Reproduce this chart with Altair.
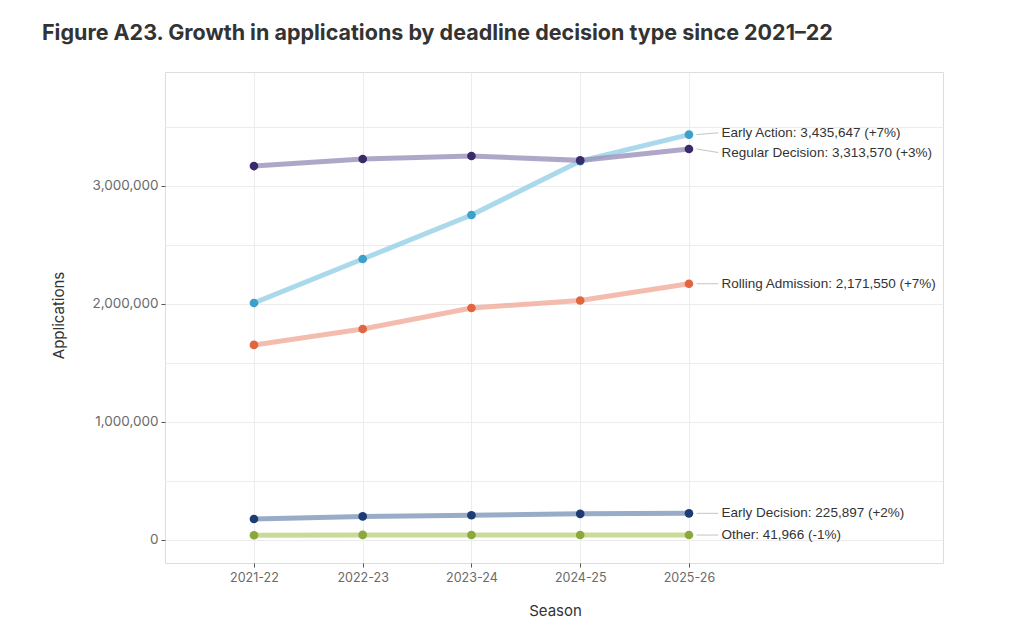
import altair as alt
import pandas as pd

seasons = ["2021-22", "2022-23", "2023-24", "2024-25", "2025-26"]
series = ["Early Action", "Regular Decision", "Rolling Admission", "Early Decision", "Other"]
values = {
    "Early Action": [2008000, 2381000, 2754000, 3210900, 3435647],
    "Regular Decision": [3169000, 3229000, 3254000, 3217100, 3313570],
    "Rolling Admission": [1653000, 1788000, 1966000, 2029500, 2171550],
    "Early Decision": [178000, 200000, 210000, 221500, 225897],
    "Other": [40000, 43000, 42000, 42400, 41966],
}
growth = {"Early Action": "+7%", "Regular Decision": "+3%", "Rolling Admission": "+7%",
          "Early Decision": "+2%", "Other": "-1%"}
label_nudge = {"Early Action": 15000, "Regular Decision": -30000, "Rolling Admission": 0,
               "Early Decision": 0, "Other": 0}
line_colors = ["#93cfe5", "#9b91ba", "#f1ab9b", "#7f97b9", "#bdd17f"]
point_colors = ["#3d9fcb", "#3a2a6a", "#e2653f", "#1d3b74", "#8aa83b"]
y_grid = [0, 500000, 1000000, 1500000, 2000000, 2500000, 3000000, 3500000]

rows = []
for s in series:
    for i, season in enumerate(seasons):
        rows.append({"series": s, "idx": i, "season": season, "value": values[s][i]})
df = pd.DataFrame(rows)

lab_rows = []
last = len(seasons) - 1
for s in series:
    v = values[s][last]
    lab_rows.append({
        "series": s,
        "value": v,
        "label_y": v + label_nudge[s],
        "x0": last + 0.07,
        "x1": last + 0.27,
        "xt": last + 0.30,
        "label": f"{s}: {v:,} ({growth[s]})",
    })
ldf = pd.DataFrame(lab_rows)

label_expr = "[" + ",".join(f"'{s}'" for s in seasons) + "][round(datum.value)]"

xscale = alt.Scale(domain=[-0.818, 6.336], nice=False, zero=False)
yscale = alt.Scale(domain=[-195000, 3966000], nice=False, zero=False)

x_enc = alt.X("idx:Q", scale=xscale, title="Season",
              axis=alt.Axis(values=list(range(len(seasons))), labelExpr=label_expr,
                            grid=True, gridColor="#ececec", domain=False,
                            tickColor="#555", tickSize=4, labelColor="#6a6a6a",
                            labelFontSize=12.5, labelFont="Inter", labelPadding=4,
                            titleFont="Inter", titleFontSize=15, titleFontWeight="normal",
                            titleColor="#333", titleX=390, titleY=40))
y_enc = alt.Y("value:Q", scale=yscale, title="Applications",
              axis=alt.Axis(values=y_grid,
                            labelExpr="datum.value % 1000000 == 0 ? format(datum.value, ',') : ''",
                            tickColor={"condition": {"test": "datum.value % 1000000 != 0",
                                                     "value": "transparent"},
                                       "value": "#555"},
                            grid=True, gridColor="#ececec", domain=False,
                            tickSize=4, labelColor="#6a6a6a", labelFontSize=13.5,
                            labelFont="Inter", labelPadding=3,
                            titleFont="Inter", titleFontSize=15, titleFontWeight="normal",
                            titleColor="#333", titleX=-99, titleY=243))

base = alt.Chart(df)
lines = base.mark_line(strokeWidth=5, opacity=0.8).encode(
    x=x_enc, y=y_enc,
    stroke=alt.Stroke("series:N", scale=alt.Scale(domain=series, range=line_colors), legend=None),
    detail="series:N",
)
points = base.mark_circle(size=75, opacity=1).encode(
    x="idx:Q", y="value:Q",
    fill=alt.Fill("series:N", scale=alt.Scale(domain=series, range=point_colors), legend=None),
)
lab = alt.Chart(ldf)
leaders = lab.mark_rule(color="#c4c4c4", strokeWidth=1).encode(
    x="x0:Q", x2="x1:Q", y="value:Q", y2="label_y:Q")
texts = lab.mark_text(align="left", baseline="middle", font="Liberation Sans",
                      fontSize=13.5, color="#333").encode(
    x="xt:Q", y="label_y:Q", text="label:N")

chart = alt.layer(lines, points, leaders, texts).properties(
    width=778, height=491,
    autosize=alt.AutoSizeParams(type="none"),
    padding={"left": 157, "top": 64, "right": 50, "bottom": 65},
    title=alt.Title("Figure A23. Growth in applications by deadline decision type since 2021–22",
                    anchor="start", frame="group", dx=-123, offset=28,
                    font="Inter", fontSize=21.5, fontWeight="bold", color="#333"),
).configure_view(stroke="#8f8f8f", strokeWidth=1.2).configure(background="white")

chart.save("out.html", embed_options={"renderer": "svg", "actions": False})
